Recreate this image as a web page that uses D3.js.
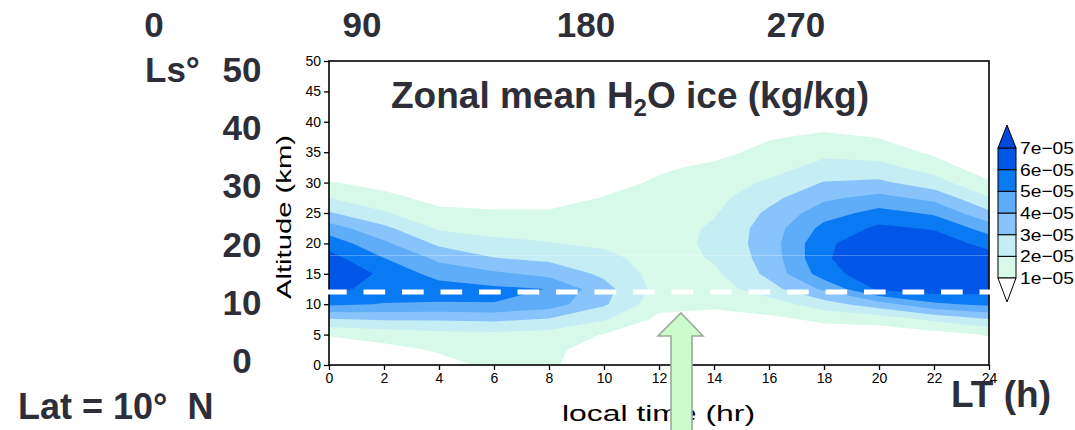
<!DOCTYPE html>
<html><head><meta charset="utf-8">
<script src="https://cdn.jsdelivr.net/npm/d3@7"></script>
<style>
body{margin:0;background:#fff;}
svg{display:block;}
text{font-family:"Liberation Sans",Arial,Helvetica,sans-serif;}
.big{font-weight:bold;fill:#2e2e38;font-size:35px;white-space:pre;}
</style>
</head><body>
<svg id="c" width="1075" height="430"></svg>
<script>
// ---------------- data ----------------
const localTimeHr = [0, 2, 4, 6, 8, 10, 12, 14, 16, 18, 20, 22, 24];
const altitudeKm  = [0, 2.5, 5, 7.5, 10, 12.5, 15, 17.5, 20, 22.5, 25, 27.5, 30, 32.5, 35, 37.5, 40, 45, 50];
// zonal mean H2O ice, units of 1e-5 kg/kg ; one row per altitude, one column per local time
const iceE5 = [
  [0.1, 0.4, 0.7, 1.2, 1.1, 0.6, 0.3, 0.2, 0.1, 0.1, 0.1, 0.1, 0.1],
  [0.3, 0.7, 1.1, 1.3, 1.1, 0.8, 0.4, 0.3, 0.2, 0.2, 0.2, 0.3, 0.3],
  [1.1, 1.4, 1.7, 1.75, 1.6, 0.95, 0.5, 0.5, 0.4, 0.6, 0.4, 0.6, 1.1],
  [2.9, 3.1, 3.1, 3.2, 2.9, 2.1, 0.75, 0.8, 0.8, 1.15, 1.4, 2.2, 2.95],
  [5.2, 4.95, 4.9, 4.97, 4.5, 3.15, 1.35, 1.1, 1.5, 2.55, 3.6, 4.8, 5.25],
  [6.3, 5.6, 5.5, 5.2, 4.98, 3.35, 1.66, 1.5, 2.6, 4.2, 6.2, 6.6, 6.4],
  [6.8, 5.8, 4.6, 4.2, 3.7, 2.8, 1.6, 1.8, 3.25, 5.5, 6.8, 6.9, 6.85],
  [6.4, 5.03, 3.8, 3.05, 2.8, 2.35, 1.5, 2.1, 3.4, 5.85, 6.9, 6.9, 6.5],
  [5.6, 4.2, 2.8, 2.3, 2.05, 1.8, 1.55, 2.2, 3.5, 5.8, 6.7, 6.6, 5.65],
  [4.47, 3.25, 1.85, 1.6, 1.6, 1.6, 1.5, 2.15, 3.45, 5.3, 6.2, 5.9, 4.55],
  [3.1, 2.1, 1.3, 1.15, 1.15, 1.4, 1.45, 1.9, 3.2, 4.55, 5.35, 4.85, 3.2],
  [2.0, 1.35, 0.6, 0.5, 0.5, 1.05, 1.35, 1.7, 2.7, 3.8, 4.3, 3.7, 2.05],
  [1.07, 0.6, 0.1, 0.1, 0.1, 0.6, 1.15, 1.5, 2.15, 3.05, 3.2, 2.4, 1.15],
  [0.2, 0.2, 0, 0, 0, 0.2, 0.85, 1.2, 1.6, 2.35, 2.3, 1.6, 0.3],
  [0, 0, 0, 0, 0, 0, 0.3, 0.7, 1.3, 1.75, 1.6, 0.8, 0],
  [0, 0, 0, 0, 0, 0, 0, 0.2, 0.9, 1.2, 0.95, 0.3, 0],
  [0, 0, 0, 0, 0, 0, 0, 0, 0.2, 0.6, 0.5, 0, 0],
  [0, 0, 0, 0, 0, 0, 0, 0, 0, 0, 0, 0, 0],
  [0, 0, 0, 0, 0, 0, 0, 0, 0, 0, 0, 0, 0]
];
const contourLevelsE5 = [1, 2, 3, 4, 5, 6, 7];
const levelColors = ["#d7f9ea", "#c4eef3", "#88c4fb", "#5fadf8", "#0a7af2", "#0057e7", "#0049dc"];
const colorbarLabels = ["1e\u221205", "2e\u221205", "3e\u221205", "4e\u221205", "5e\u221205", "6e\u221205", "7e\u221205"];
const xTicks = [0, 2, 4, 6, 8, 10, 12, 14, 16, 18, 20, 22, 24];
const yTicks = [0, 5, 10, 15, 20, 25, 30, 35, 40, 45, 50];
const cloudBaseKm = 12;
const seamKm = 18;
const lsLabels = [0, 90, 180, 270];
const bigAltLabels = [0, 10, 20, 30, 40, 50];

// ---------------- layout ----------------
const svg = d3.select("#c");
const x = d3.scaleLinear().domain([0, 24]).range([329, 989]);
const y = d3.scaleLinear().domain([0, 50]).range([365, 61]);

// contour grid
const nx = localTimeHr.length, ny = altitudeKm.length;
const flat = [];
for (let j = 0; j < ny; j++) for (let i = 0; i < nx; i++) flat.push(iceE5[j][i]);
const contours = d3.contours().size([nx, ny]).thresholds(contourLevelsE5)(flat);

function gridMap(c, arr) {
  const n = arr.length;
  const t = Math.max(0, Math.min(n - 1, c - 0.5));
  const i = Math.min(n - 2, Math.floor(t));
  return arr[i] + (t - i) * (arr[i + 1] - arr[i]);
}
function contourPath(mp) {
  let s = "";
  mp.coordinates.forEach(poly => poly.forEach(ring => {
    ring.forEach((p, k) => {
      const px = x(gridMap(p[0], localTimeHr)), py = y(gridMap(p[1], altitudeKm));
      s += (k ? "L" : "M") + px.toFixed(2) + "," + py.toFixed(2);
    });
    s += "Z";
  }));
  return s;
}
svg.append("clipPath").attr("id", "plotclip").append("rect")
  .attr("x", x(0)).attr("y", y(50)).attr("width", x(24) - x(0)).attr("height", y(0) - y(50));

const gC = svg.append("g").attr("clip-path", "url(#plotclip)");
gC.selectAll("path").data(contours).join("path")
  .attr("d", contourPath)
  .attr("fill", (d, i) => levelColors[i])
  .attr("stroke", "none");

// faint seam line
gC.append("line").attr("x1", x(0)).attr("x2", x(24)).attr("y1", y(seamKm)).attr("y2", y(seamKm))
  .attr("stroke", "#ffffff").attr("stroke-opacity", 0.28).attr("stroke-width", 1);

// axes
const yAxis = d3.axisLeft(y).tickValues(yTicks).tickSize(5).tickPadding(3);
const gy = svg.append("g").attr("transform", `translate(${x(0)},0)`).call(yAxis);
const xAxis = d3.axisBottom(x).tickValues(xTicks).tickSize(5).tickPadding(3);
const gx = svg.append("g").attr("transform", `translate(0,${y(0)})`).call(xAxis);
[gx, gy].forEach(g => {
  g.select(".domain").remove();
  g.selectAll(".tick line").attr("stroke", "#000").attr("stroke-width", 1.3);
  g.selectAll(".tick text").attr("font-size", 14).attr("fill", "#000");
});
svg.append("rect").attr("x", x(0)).attr("y", y(50)).attr("width", x(24) - x(0)).attr("height", y(0) - y(50))
  .attr("fill", "none").attr("stroke", "#000").attr("stroke-width", 1.6);

// axis titles
svg.append("text").attr("transform", `translate(291,${(y(0)+y(50))/2 + 4}) rotate(-90)`)
  .attr("text-anchor", "middle").attr("font-size", 20).attr("fill", "#000")
  .attr("textLength", 164).attr("lengthAdjust", "spacingAndGlyphs").text("Altitude (km)");
svg.append("text").attr("x", 562).attr("y", 421).attr("font-size", 22).attr("fill", "#000")
  .attr("textLength", 193).attr("lengthAdjust", "spacingAndGlyphs").text("local time (hr)");

// dashed cloud base line
svg.append("line").attr("x1", 325).attr("x2", 995).attr("y1", y(cloudBaseKm)).attr("y2", y(cloudBaseKm))
  .attr("stroke", "#fff").attr("stroke-width", 5).attr("stroke-dasharray", "21.7,16.8");

// title
const title = svg.append("text").attr("x", 391).attr("y", 108).attr("class", "big").style("font-size", "37px");
title.append("tspan").text("Zonal mean H");
title.append("tspan").attr("dy", 8).style("font-size", "24px").text("2");
title.append("tspan").attr("dy", -8).text("O ice (kg/kg)");

// colorbar
const cb = d3.scaleLinear().domain([1, 7]).range([278, 148]);
const cbx = 998, cbw = 18;
const gcb = svg.append("g");
for (let k = 0; k < contourLevelsE5.length - 1; k++) {
  gcb.append("rect").attr("x", cbx).attr("y", cb(contourLevelsE5[k + 1])).attr("width", cbw)
    .attr("height", cb(contourLevelsE5[k]) - cb(contourLevelsE5[k + 1]))
    .attr("fill", levelColors[k]).attr("stroke", "#000").attr("stroke-width", 1);
}
gcb.append("path").attr("d", `M${cbx},${cb(7)}L${cbx + cbw / 2},${cb(7) - 23}L${cbx + cbw},${cb(7)}Z`)
  .attr("fill", levelColors[6]).attr("stroke", "#000").attr("stroke-width", 1);
gcb.append("path").attr("d", `M${cbx},${cb(1)}L${cbx + cbw / 2},${cb(1) + 24}L${cbx + cbw},${cb(1)}Z`)
  .attr("fill", "#fff").attr("stroke", "#000").attr("stroke-width", 1);
gcb.selectAll("text.cbl").data(contourLevelsE5).join("text").attr("class", "cbl")
  .attr("x", 1020).attr("y", d => cb(d) + 6).attr("font-size", 17).attr("fill", "#000")
  .attr("textLength", 54).attr("lengthAdjust", "spacingAndGlyphs")
  .text((d, i) => colorbarLabels[i]);

// green arrow
svg.append("path").attr("d", "M681,313L703,336L692,336L692,436L671,436L671,336L658,336Z")
  .attr("fill", "#ccfccc").attr("stroke", "#9aab9a").attr("stroke-width", 1.6);

// big annotation labels
const lsX = d3.scaleLinear().domain([0, 90, 180, 270]).range([154, 362, 586, 796]);
svg.selectAll("text.ls").data(lsLabels).join("text").attr("class", "ls big")
  .attr("x", d => lsX(d)).attr("y", 37).attr("text-anchor", "middle").text(d => d);
svg.append("text").attr("class", "big").attr("x", 145).attr("y", 82).text("Ls\u00b0");
const altBig = d3.scaleLinear().domain([0, 50]).range([373, 82]);
svg.selectAll("text.ab").data(bigAltLabels).join("text").attr("class", "ab big")
  .attr("x", 242).attr("y", d => altBig(d)).attr("text-anchor", "middle").text(d => d);
svg.append("text").attr("class", "big").attr("x", 18).attr("y", 419).style("font-size", "36px").text("Lat = 10\u00b0  N");
svg.append("text").attr("class", "big").attr("x", 951).attr("y", 407).style("font-size", "37px").text("LT (h)");
</script>
</body></html>
